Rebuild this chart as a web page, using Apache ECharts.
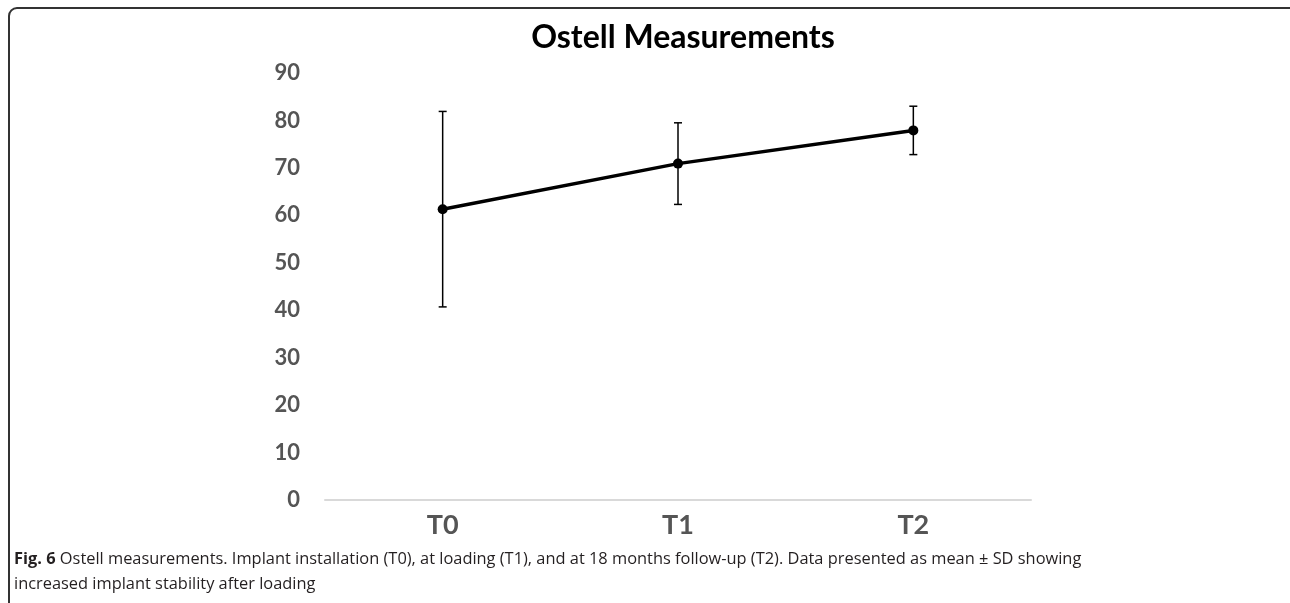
<!DOCTYPE html>
<html>
<head>
<meta charset="utf-8">
<script src="https://cdn.jsdelivr.net/npm/echarts@6/dist/echarts.min.js"></script>
<style>
  html, body { margin: 0; padding: 0; background: #fff; overflow: hidden; }
  #frame { position: absolute; left: 8px; top: 7px; width: 1300px; height: 640px;
           border: 2px solid #333; border-radius: 9px; box-sizing: border-box; }
  #chart { position: absolute; left: 0; top: 0; width: 1290px; height: 603px; }
</style>
</head>
<body>
<div id="frame"></div>
<div id="chart"></div>
<script>
const categories = ['T0', 'T1', 'T2'];
const means = [61.3, 70.9, 77.9];
const sds = [20.6, 8.6, 5.1];
const yTicks = [0, 10, 20, 30, 40, 50, 60, 70, 80, 90];
const chartTitle = 'Ostell Measurements';
const captionBold = 'Fig. 6';
const captionLine1 = ' Ostell measurements. Implant installation (T0), at loading (T1), and at 18 months follow-up (T2). Data presented as mean \u00b1 SD showing';
const captionLine2 = 'increased implant stability after loading';

const errData = categories.map((c, i) => [i, means[i] - sds[i], means[i] + sds[i]]);

const chart = echarts.init(document.getElementById('chart'));
chart.setOption({
  animation: false,
  title: {
    text: chartTitle,
    left: 678, top: 17, textAlign: 'center',
    textStyle: { fontFamily: 'Lato', fontWeight: 'bold', fontSize: 32, color: '#000' }
  },
  grid: { left: 325, right: 259, top: 73, bottom: 103, containLabel: false },
  xAxis: {
    type: 'category', data: categories, boundaryGap: true,
    axisLine: { lineStyle: { color: '#d9d9d9', width: 2 } },
    axisTick: { show: false },
    axisLabel: { fontFamily: 'Lato', fontWeight: 'bold', fontSize: 27, color: '#555', margin: 12 }
  },
  yAxis: {
    type: 'value', min: yTicks[0], max: yTicks[yTicks.length - 1], interval: 10,
    axisLine: { show: false }, axisTick: { show: false },
    splitLine: { show: false },
    axisLabel: { fontFamily: 'Lato', fontWeight: 'bold', fontSize: 22, color: '#555', margin: 25 }
  },
  series: [
    {
      type: 'custom',
      data: errData,
      z: 1,
      renderItem: function (params, api) {
        const x = api.value(0);
        const lo = api.coord([x, api.value(1)]);
        const hi = api.coord([x, api.value(2)]);
        const hw = 4;
        const st = { stroke: '#000', lineWidth: 1.5 };
        return {
          type: 'group',
          children: [
            { type: 'line', shape: { x1: lo[0], y1: lo[1], x2: hi[0], y2: hi[1] }, style: st },
            { type: 'line', shape: { x1: lo[0] - hw, y1: lo[1], x2: lo[0] + hw, y2: lo[1] }, style: st },
            { type: 'line', shape: { x1: hi[0] - hw, y1: hi[1], x2: hi[0] + hw, y2: hi[1] }, style: st }
          ]
        };
      }
    },
    {
      type: 'line',
      data: means,
      z: 2,
      symbol: 'circle', symbolSize: 10,
      lineStyle: { color: '#000', width: 3.5 },
      itemStyle: { color: '#000' }
    }
  ],
  graphic: [
    {
      type: 'text', left: 14, top: 551,
      style: {
        text: '{b|' + captionBold + '}{r|' + captionLine1 + '}',
        rich: {
          b: { fontFamily: 'Open Sans', fontWeight: 'bold', fontSize: 16.4, fill: '#231f20' },
          r: { fontFamily: 'Open Sans', fontSize: 16.4, fill: '#231f20' }
        }
      }
    },
    {
      type: 'text', left: 14, top: 576,
      style: { text: captionLine2, fontFamily: 'Open Sans', fontSize: 16.4, fill: '#231f20' }
    }
  ]
});
</script>
</body>
</html>
